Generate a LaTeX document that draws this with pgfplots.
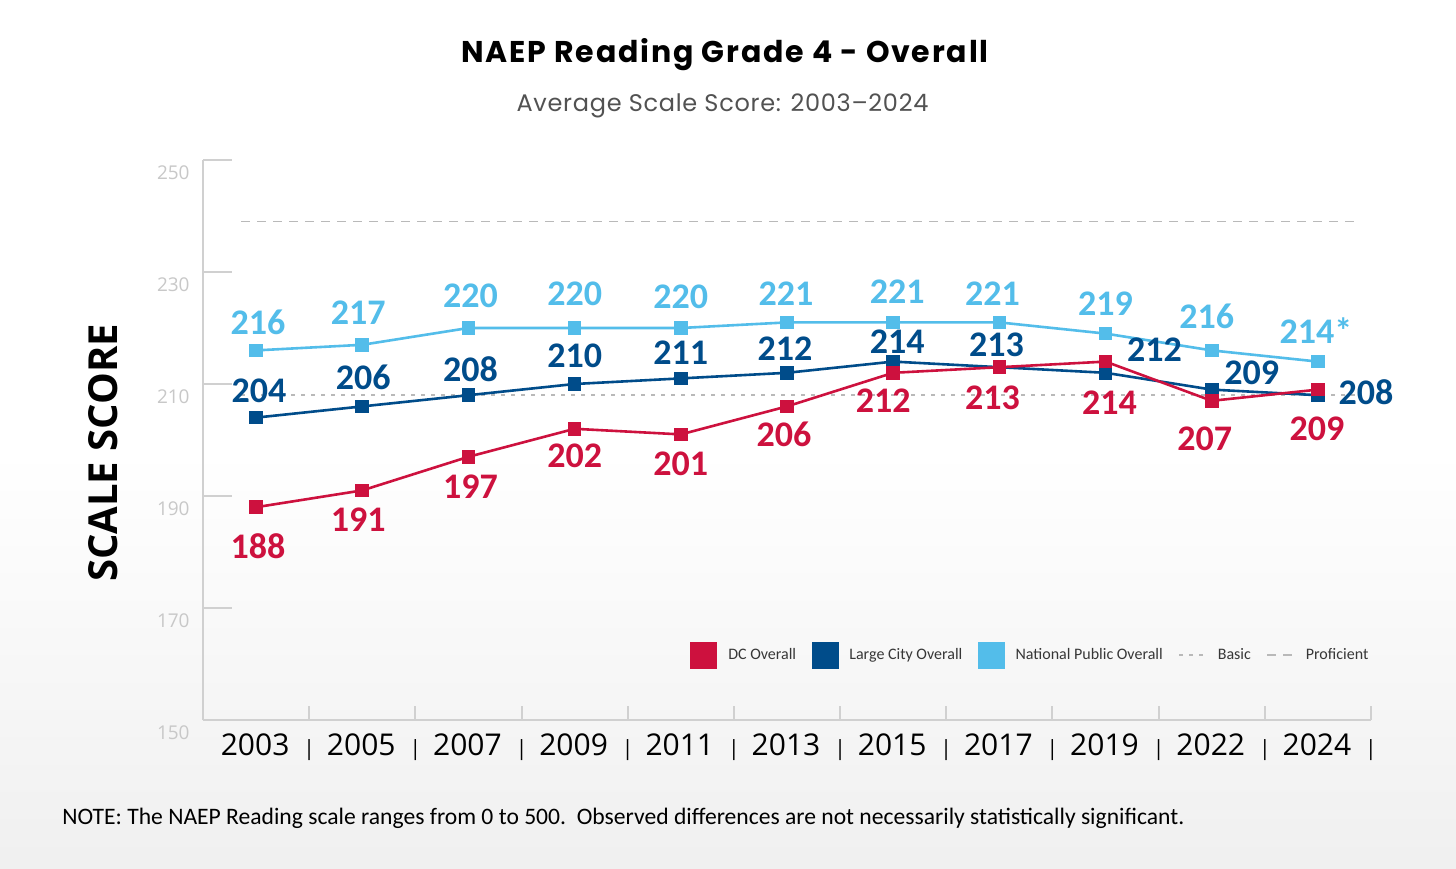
\documentclass[border=0pt]{standalone}
\usepackage{pgfplots}
\usepackage{pgfplotstable}
\pgfplotsset{compat=1.18}
\usepackage{fontspec}
\setmainfont{Carlito}
\newfontfamily\opensans{Open Sans}
\newfontfamily\poppins{Poppins}[LetterSpace=3]
\newfontfamily\poppinstitle{Poppins}[LetterSpace=6]

\definecolor{dcred}{RGB}{205,17,62}
\definecolor{lcblue}{RGB}{0,76,138}
\definecolor{npblue}{RGB}{83,189,234}
\definecolor{axisgray}{RGB}{208,208,208}
\definecolor{tickgray}{RGB}{200,200,200}
\definecolor{refgray}{RGB}{185,185,185}
\definecolor{legtext}{RGB}{55,55,55}

% x = survey index, dx/dy = label offset from the point (px)
\pgfplotstableread{
x y dx dy lab
0 188 2 -39 188
1 191 -4 -29 191
2 197 2 -30 197
3 202 0 -27 202
4 201 0 -29 201
5 206 -3 -28 206
6 212 -10 -28 212
7 213 -7 -31 213
8 214 4 -41 214
9 207 -7 -38 207
10 209 -1 -39 209
}\dcdata

\pgfplotstableread{
x y dx dy lab
0 204 3 27 204
1 206 1 29 206
2 208 2 26 208
3 210 0 28 210
4 211 0 26 211
5 212 -2 24 212
6 214 4 20 214
7 213 -3 22 213
8 212 49 23 212
9 209 40 17 209
10 208 48 3 208
}\lcdata

\pgfplotstableread{
x y dx dy lab
0 216 2 28 216
1 217 -4 32 217
2 220 2 32 220
3 220 0 34 220
4 220 0 31 220
5 221 -1 29 221
6 221 4 31 221
7 221 -7 29 221
8 219 0 30 219
9 216 -5 34 216
10 214 -2 31 214*
}\npdata

\pgfplotsset{
  series/.style={
    #1, line width=1.3pt, mark=square*, mark size=2.75pt, forget plot,
    point meta=explicit symbolic,
    visualization depends on={\thisrow{dx} \as \lx},
    visualization depends on={\thisrow{dy} \as \ly},
    nodes near coords,
    nodes near coords style={font=\bfseries\fontsize{18}{20}\selectfont, text=#1,
      anchor=center, inner sep=0pt, xshift=\lx*0.5pt, yshift=\ly*0.5pt},
  },
  sqimg/.style={legend image code/.code={\fill[#1] (0pt,-6.5pt) rectangle (13pt,6.5pt);}},
}

\begin{document}
\begin{tikzpicture}
% page background, 1px = 0.5pt, axis box corner at px (203,720)
\fill[white] (-101.5pt,-74pt) rectangle (626.5pt,360pt);
\shade[top color=white, bottom color=black!6] (-101.5pt,-74pt) rectangle (626.5pt,135pt);

\begin{axis}[
  at={(0,0)}, anchor=south west,
  scale only axis, width=584pt, height=280pt,
  xmin=-0.5, xmax=10.5, ymin=150, ymax=250,
  axis lines=left,
  axis line style={-, draw=axisgray, line width=1pt},
  tick align=inside,
  major tick length=7pt,
  clip=false,
  /pgf/number format/assume math mode=true,
  ytick={150,170,...,250},
  ytick style={draw=axisgray, line width=1pt, /pgfplots/major tick length=14.5pt},
  yticklabel style={font=\opensans\fontsize{9.5}{11}\selectfont, text=tickgray,
    anchor=east, inner sep=0pt, xshift=-6.5pt, yshift=-6.5pt},
  xtick={0.5,1.5,...,10.5},
  xticklabels={|,|,|,|,|,|,|,|,|,|,|},
  xtick style={draw=axisgray, line width=1pt},
  xticklabel style={font=\opensans\fontsize{10.5}{12}\selectfont, text=black,
    anchor=base, inner sep=0pt, yshift=-17.5pt},
  extra x ticks={0,1,...,10},
  extra x tick labels={2003,2005,2007,2009,2011,2013,2015,2017,2019,2022,2024},
  extra x tick style={major tick length=0pt,
    xticklabel style={font=\opensans\fontsize{15}{17}\selectfont, xshift=-0.5pt}},
  legend style={at={(0.417,0.116)}, anchor=west, draw=none, fill=none,
    inner sep=0pt, legend columns=-1, font=\fontsize{8}{10}\selectfont,
    text=legtext, nodes={inner sep=0pt},
    /tikz/every odd column/.append style={column sep=5.5pt},
    /tikz/every even column/.append style={column sep=7.7pt}},
]
% Basic and Proficient reference lines
\addplot[refgray, line width=0.8pt, dash pattern=on 2pt off 3pt, forget plot]
  coordinates {(-0.14,208) (10.35,208)};
\addplot[refgray, line width=0.8pt, dash pattern=on 4.5pt off 3.5pt, forget plot]
  coordinates {(-0.14,239) (10.35,239)};

\addplot[series=npblue] table[x=x, y=y, meta=lab]{\npdata};
\addplot[series=lcblue] table[x=x, y=y, meta=lab]{\lcdata};
\addplot[series=dcred] table[x=x, y=y, meta=lab]{\dcdata};

\addlegendimage{sqimg=dcred}
\addlegendentry{DC Overall}
\addlegendimage{sqimg=lcblue}
\addlegendentry{Large City Overall}
\addlegendimage{sqimg=npblue}
\addlegendentry{National Public Overall}
\addlegendimage{legend image code/.code={\draw[refgray, line width=0.8pt, dash pattern=on 2pt off 3pt] (0pt,0pt) -- (13.5pt,0pt);}}
\addlegendentry{Basic}
\addlegendimage{legend image code/.code={\draw[refgray, line width=0.8pt, dash pattern=on 4.5pt off 3.5pt] (0pt,0pt) -- (13.5pt,0pt);}}
\addlegendentry{Proficient}
\end{axis}

\node[anchor=base, font=\poppinstitle\bfseries\fontsize{15}{17}\selectfont] at (261pt,328.5pt)
  {NAEP Reading Grade 4 - Overall};
\node[anchor=base, font=\poppins\fontsize{12}{14}\selectfont, text=black!68] at (259.75pt,304pt)
  {Average Scale Score: 2003–2024};
\node[rotate=90, font=\opensans\bfseries\fontsize{20}{24}\selectfont] at (-50pt,133.5pt)
  {SCALE SCORE};
\node[anchor=base west, inner sep=0pt, font=\fontsize{11.8}{13}\selectfont] at (-70.5pt,-52pt)
  {NOTE: The NAEP Reading scale ranges from 0 to 500.\ \ Observed differences are not necessarily statistically significant.};

\pgfresetboundingbox
\useasboundingbox (-101.5pt,-74pt) rectangle (626.5pt,360pt);
\end{tikzpicture}
\end{document}
